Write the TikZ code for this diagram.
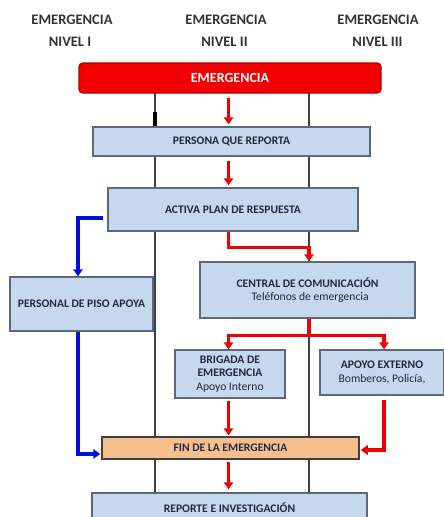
\documentclass[tikz,border=0pt]{standalone}
\usepackage{fontspec}
\setmainfont{Carlito}
\usetikzlibrary{arrows.meta,calc}
\definecolor{boxfill}{HTML}{C6D8EE}
\definecolor{boxline}{HTML}{5F6878}
\definecolor{finfill}{HTML}{F8BF8E}
\definecolor{myred}{HTML}{F00000}
\definecolor{darkred}{HTML}{B00000}
\definecolor{myblue}{HTML}{0010E0}
\definecolor{colgray}{HTML}{404040}
\definecolor{txt}{HTML}{232840}
\definecolor{hdrgray}{HTML}{333333}
\tikzset{
  box/.style={draw=boxline, fill=boxfill, line width=1.5pt, inner sep=0pt, align=center,
    text=txt, font=\bfseries\fontsize{11.6}{13.5}\selectfont},
  redline/.style={draw=myred, line width=3.4pt},
  redarr/.style={redline, -{Triangle[width=9.5pt,length=7pt]}},
  bluearr/.style={draw=myblue, line width=3.4pt, -{Triangle[width=9.5pt,length=7pt]}},
  colline/.style={draw=colgray, line width=2pt},
  hdr/.style={font=\bfseries\fontsize{14.5}{15}\selectfont, text=hdrgray, inner sep=0pt}
}
\begin{document}
\begin{tikzpicture}[x=1pt,y=-1pt]
\useasboundingbox (0,0) rectangle (444,517);
\clip (0,0) rectangle (444,517);
% column helper coordinates
\coordinate (col1) at (155,0);
\coordinate (col2) at (309,0);
\coordinate (mid) at (228.5,0);
\coordinate (bx) at (78,0);
\coordinate (ax) at (384,0);
% headers
\node[hdr] (h1) at (72,19.5) {EMERGENCIA};
\node[hdr] (h1b) at (70,41.5) {NIVEL I};
\node[hdr] (h2) at (226,19.5) {EMERGENCIA};
\node[hdr] (h2b) at (224.5,41.5) {NIVEL II};
\node[hdr] (h3) at (378,19.5) {EMERGENCIA};
\node[hdr] (h3b) at (377.5,41.5) {NIVEL III};
% placeholders so columns can be drawn behind the boxes
\coordinate (emerc) at (230,78);
\node[minimum width=302pt, minimum height=30pt, inner sep=0pt] (emerph) at (emerc) {};
\node[minimum width=275pt, minimum height=34pt, inner sep=0pt] (repph) at (229.5,510) {};
% column lines
\draw[colline] (emerph.south -| col1) -- (repph.north -| col1);
\draw[colline] (emerph.south -| col2) -- (repph.north -| col2);
\draw[line width=3.2pt, black] (155,112) -- (155,127);
% nodes
\node[draw=darkred, fill=myred, line width=1.3pt, rounded corners=4pt, minimum width=302pt,
  minimum height=30pt, inner sep=0pt, text=white, font=\bfseries\fontsize{14}{14}\selectfont]
  (emer) at (emerc) {EMERGENCIA};
\node[box, minimum width=277pt, minimum height=29pt] (persona) at (231.5,141.5) {PERSONA QUE REPORTA};
\node[box, minimum width=250pt, minimum height=43pt] (activa) at (233,209.5) {ACTIVA PLAN DE RESPUESTA};
\node[box, minimum width=215pt, minimum height=56pt] (central) at (307.5,290)
  {CENTRAL DE COMUNICACIÓN\\\mdseries\ \ Teléfonos de emergencia};
\node[box, minimum width=143pt, minimum height=54pt] (personal) at (81.5,304) {PERSONAL DE PISO APOYA};
\node[box, minimum width=110pt, minimum height=48pt] (brigada) at (230,374)
  {BRIGADA DE\\EMERGENCIA\\\mdseries Apoyo Interno};
\node[box, minimum width=124pt, minimum height=45pt] (apoyo) at (382,372.5)
  {APOYO EXTERNO\\\mdseries Bomberos, Policía,};
\node[box, fill=finfill, draw=colgray, minimum width=257pt, minimum height=22pt] (fin) at (230.5,448)
  {FIN DE LA EMERGENCIA};
\node[box, minimum width=275pt, minimum height=34pt, text depth=0pt] (reporte) at (229.5,510)
  {\raisebox{5pt}{REPORTE E INVESTIGACIÓN}};
% connectors
\draw[redarr, shorten <=4pt, shorten >=2pt] (emer.south -| mid) -- (persona.north -| mid);
\draw[redarr, shorten <=4pt, shorten >=2pt] (persona.south -| mid) -- (activa.north -| mid);
\draw[redarr] (activa.south -| mid) -- ++(0,16) -| (central.north -| col2);
\draw[bluearr] ($(activa.west)+(-4,8.5)$) -| (personal.north -| bx);
\draw[bluearr] (personal.south -| bx) |- ($(fin.west)+(-1,6)$);
\coordinate (split) at ($(central.south -| col2)+(0,17)$);
\draw[redline] (central.south -| col2) -- (split);
\draw[redarr] (split) -| (brigada.north -| mid);
\draw[redarr] (split) -| (apoyo.north -| ax);
\draw[redarr, shorten <=2pt, shorten >=1pt] (brigada.south -| mid) -- (fin.north -| mid);
\draw[redarr, shorten <=4pt] (apoyo.south -| ax) |- ($(fin.east)+(1,2)$);
\draw[redarr, shorten <=2pt, shorten >=3pt] (fin.south -| mid) -- (reporte.north -| mid);
\end{tikzpicture}
\end{document}
